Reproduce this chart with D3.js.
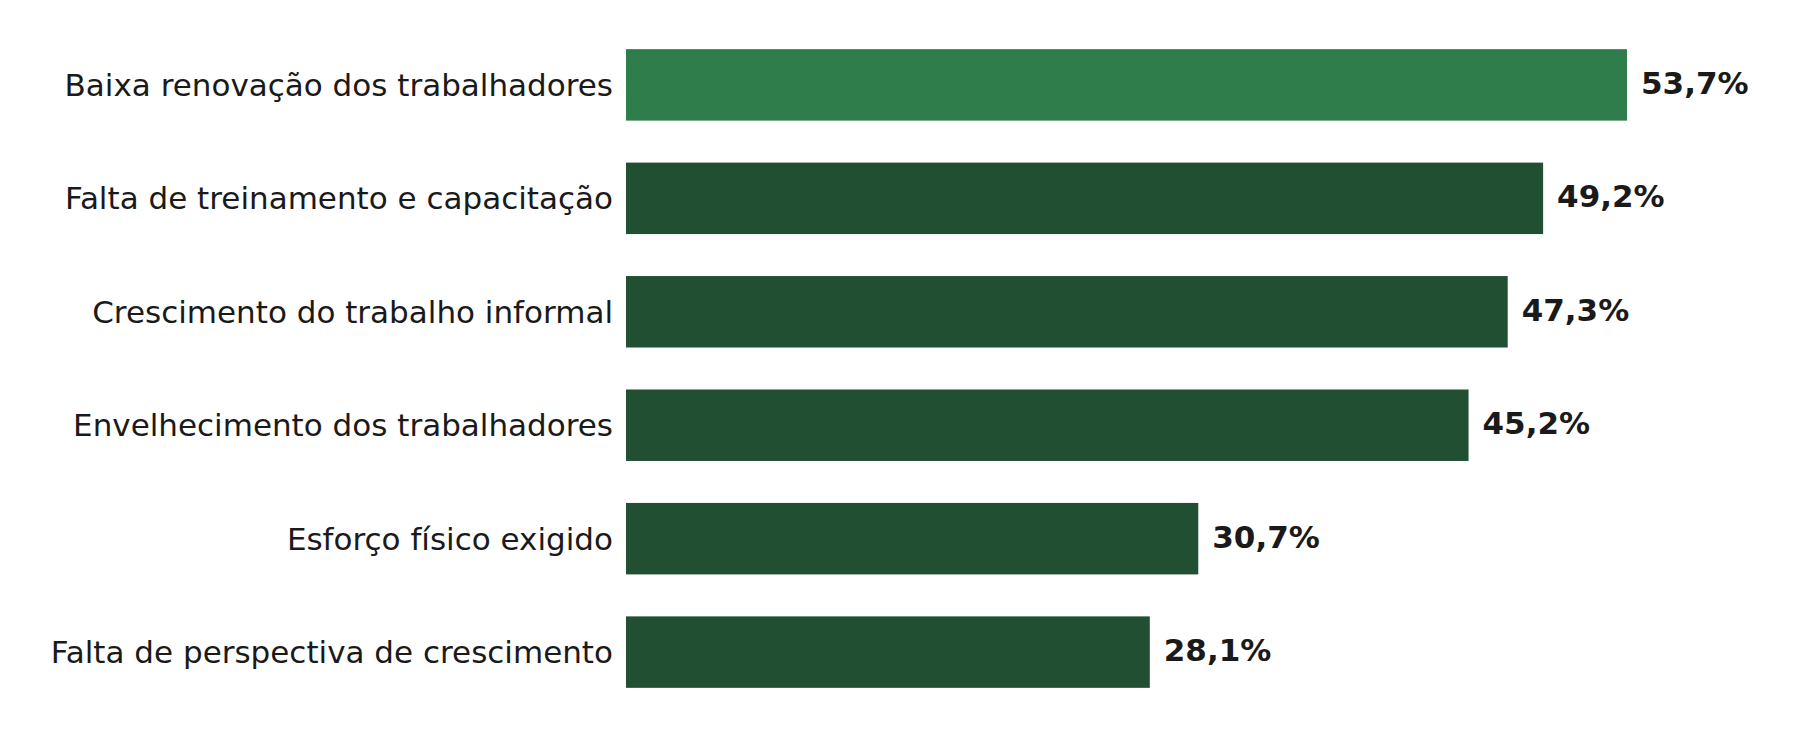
<!DOCTYPE html>
<html><head><meta charset="utf-8">
<script src="https://cdn.jsdelivr.net/npm/d3@7"></script>
<style>body{margin:0;background:#fff}svg{display:block}</style>
</head><body><svg id="c" width="1797" height="736"></svg>
<script>
const categories = ["Baixa renovação dos trabalhadores","Falta de treinamento e capacitação","Crescimento do trabalho informal","Envelhecimento dos trabalhadores","Esforço físico exigido","Falta de perspectiva de crescimento"];
const values = [53.7,49.2,47.3,45.2,30.7,28.1];
const labels = ["53,7%","49,2%","47,3%","45,2%","30,7%","28,1%"];
const colors = ["#2e7d4a","#205031","#205031","#205031","#205031","#205031"];
const svg = d3.select("#c");
const x = d3.scaleLinear().domain([0,53.7]).range([626,1627]);
const y = d3.scaleBand().domain(categories).range([31,706]).paddingInner(0.37).paddingOuter(0.16);
svg.selectAll("rect").data(categories).join("rect")
  .attr("x",x(0)).attr("y",d=>y(d)).attr("height",y.bandwidth())
  .attr("width",(d,i)=>x(values[i])-x(0)).attr("fill",(d,i)=>colors[i]);
svg.selectAll("text.cat").data(categories).join("text").attr("class","cat")
  .attr("x",613).attr("y",d=>y(d)+y.bandwidth()/2).attr("dy","0.35em")
  .attr("text-anchor","end").attr("font-family","DejaVu Sans").attr("font-size",31).attr("fill","#1a1a1a").text(d=>d);
svg.selectAll("text.val").data(categories).join("text").attr("class","val")
  .attr("x",(d,i)=>x(values[i])+14).attr("y",d=>y(d)+y.bandwidth()/2-2).attr("dy","0.35em")
  .attr("font-family","DejaVu Sans").attr("font-weight","bold").attr("font-size",31).attr("fill","#1a1a1a").text((d,i)=>labels[i]);
</script></body></html>
